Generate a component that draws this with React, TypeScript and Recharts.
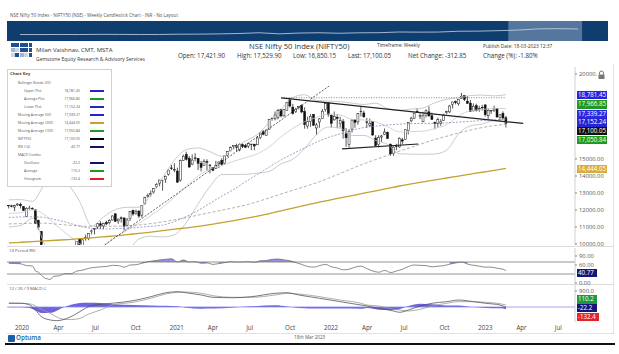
import React from "react";
import { ComposedChart, LineChart, Line, Bar, Area, XAxis, YAxis, ReferenceLine, ReferenceArea } from "recharts";

const FONT = '"Open Sans", "Noto Sans", sans-serif';

// weekly candles, Friday 27 Dec 2019 .. Friday 17 Mar 2023 (week 0 = 3 Jan 2020)
const FIRST_WEEK = -1;
const opens = [
  12273,
  12247, 12170, 12296, 12329, 12197, 11627, 12102, 12092, 12012, 11387, 10742, 9587, 7945,
  8385, 8446, 8963, 9390, 9259, 9533, 9226, 9158, 9099, 9726, 10326, 9920, 10318,
  10323, 10723, 10851, 10999, 11189, 11057, 11270, 11248, 11412, 11777, 11359, 11539, 11535,
  11105, 11487, 11973, 11813, 11937, 11697, 12399, 12781, 12906, 13062, 13393, 13571, 13741, 13815,
  14104, 14474, 14371, 14290, 13758, 14919, 15270, 15045, 14702, 15065, 15040, 14737, 14628,
  14837, 14644, 14484, 14449, 14747, 14928, 14756, 15211, 15484, 15725, 15791, 15525, 15839,
  15793, 15755, 15877, 15874, 15831, 16258, 16600, 16384, 16755, 17400, 17363, 17443, 17920,
  17532, 17867, 18477, 18048, 17783, 18040, 18140, 17796, 16937, 17209, 17619, 16824, 17177,
  17387, 17913, 18300, 17575, 17302, 17456, 17077, 17192, 16481, 15867, 16757, 17329, 17181,
  17809, 17706, 17183, 16972, 17193, 16227, 15846, 16290, 16438, 16571, 15877, 15334, 15757,
  15711, 16129, 16151, 16662, 17244, 17402, 17797, 17491, 17188, 17546, 17771, 17540, 17156,
  17102, 17094, 17272, 17736, 17771, 18211, 18376, 18246, 18552, 18719, 18402, 18288, 17831,
  18131, 17952, 18038, 18183, 17541, 17818, 17847, 17966, 17451, 17681, 17422,
];
const highs = [
  12294,
  12311, 12311, 12389, 12430, 12216, 12160, 12246, 12160, 12012, 11433, 10751, 9602, 9038,
  8678, 9131, 9390, 9390, 9889, 9553, 9585, 9178, 9598, 10179, 10328, 10273, 10553,
  10631, 10848, 10933, 11225, 11341, 11256, 11373, 11460, 11686, 11794, 11493, 11618, 11535,
  11535, 11939, 12025, 12019, 11975, 12281, 12769, 12963, 13146, 13280, 13579, 13773, 13777, 14024,
  14367, 14653, 14753, 14491, 14964, 15257, 15432, 15176, 15273, 15336, 15051, 14878, 14984,
  14984, 14697, 14527, 14890, 14863, 15044, 15189, 15469, 15733, 15823, 15901, 15915, 15915,
  15893, 15962, 15881, 15880, 16350, 16543, 16701, 16722, 17340, 17436, 17792, 17947, 17947,
  17941, 18351, 18604, 18242, 18012, 18123, 18210, 18043, 17489, 17639, 17640, 17118, 17400,
  17944, 18286, 18350, 17599, 17794, 17639, 17490, 17352, 16815, 16757, 17344, 17353, 17703,
  18114, 17842, 17414, 17377, 17200, 16404, 16400, 16414, 16794, 16610, 15890, 15749, 15892,
  16276, 16248, 16752, 17172, 17490, 17719, 17992, 17685, 17777, 17925, 18096, 17723, 17196,
  17428, 17348, 17665, 17838, 18176, 18362, 18442, 18534, 18887, 18728, 18697, 18473, 18266,
  18251, 18127, 18183, 18202, 17973, 17881, 18134, 17973, 17645, 17800, 17530,
];
const lows = [
  12087,
  12151, 11929, 12232, 12087, 11962, 11614, 12030, 11990, 11175, 10827, 8555, 7832, 7511,
  8055, 8360, 8822, 8909, 9116, 8806, 9043, 8806, 8968, 9706, 9544, 9729, 10194,
  10223, 10562, 10562, 10886, 10882, 10882, 11111, 11144, 11374, 11303, 11185, 11255, 10790,
  11031, 11347, 11661, 11724, 11535, 11557, 12311, 12730, 12790, 12962, 13280, 13400, 13131, 13596,
  14021, 14357, 14222, 13597, 13661, 14900, 14905, 14467, 14636, 14862, 14350, 14264, 14617,
  14311, 14151, 14273, 14416, 14461, 14591, 14673, 15126, 15450, 15567, 15450, 15450, 15635,
  15632, 15636, 15513, 15514, 15820, 16162, 16395, 16380, 16750, 17255, 17270, 17327, 17452,
  17500, 17865, 18034, 17613, 17697, 17917, 17689, 16783, 16782, 16891, 16966, 16410, 16833,
  17383, 17779, 17485, 16836, 17245, 16810, 16843, 16203, 15711, 15671, 16556, 16837, 17006,
  17505, 17442, 16824, 16888, 16341, 15735, 15671, 16003, 16400, 16172, 15183, 15184, 15512,
  15661, 15858, 16142, 16438, 17154, 17359, 17710, 17345, 17166, 17445, 17499, 17292, 16748,
  16855, 16950, 17238, 17637, 17700, 17969, 18210, 18133, 18552, 18410, 18255, 17774, 17795,
  17795, 17774, 17853, 17493, 17353, 17652, 17769, 17456, 17255, 17325, 16850,
];
const closes = [
  12246,
  12227, 12257, 12352, 12248, 11962, 12098, 12113, 12080, 11202, 10989, 9955, 8745, 8660,
  8084, 9112, 9267, 9154, 9860, 9251, 9137, 9039, 9580, 10142, 9972, 10244, 10383,
  10607, 10768, 10902, 11194, 11073, 11214, 11178, 11372, 11647, 11333, 11464, 11504, 11050,
  11417, 11914, 11762, 11930, 11642, 12264, 12720, 12860, 12969, 13258, 13514, 13761, 13749, 13982,
  14347, 14433, 14372, 13635, 14924, 15163, 14982, 14529, 14938, 15031, 14744, 14507, 14867,
  14835, 14617, 14341, 14631, 14823, 14677, 15175, 15436, 15670, 15799, 15683, 15860, 15722,
  15690, 15923, 15856, 15763, 16238, 16529, 16451, 16705, 17324, 17369, 17585, 17853, 17532,
  17895, 18339, 18115, 17672, 17916, 18102, 17764, 17026, 17196, 17511, 16985, 17004, 17354,
  17812, 18256, 17617, 17102, 17516, 17375, 17277, 16659, 16246, 16630, 17287, 17153, 17670,
  17784, 17476, 17172, 17102, 16411, 15782, 16266, 16352, 16584, 16202, 15294, 15699, 15752,
  16221, 16049, 16719, 17158, 17398, 17698, 17758, 17559, 17539, 17833, 17531, 17327, 17094,
  17315, 17186, 17576, 17787, 18117, 18350, 18308, 18512, 18696, 18497, 18269, 17807, 18105,
  17860, 17957, 18027, 17604, 17854, 17856, 17944, 17466, 17594, 17413, 17100,
];

// overlay studies every 4th week (weeks -1, 3, 7 ... 167)
const bbUpper = [
  12600, 12608, 12509, 13474, 14008, 13508, 12480, 11058, 11588, 12021, 12154, 12160, 12887, 13920, 14946,
  15553, 15649, 15426, 15155, 15644, 16061, 16446, 17163, 17896, 18621, 18778, 18446, 18405, 18372, 18284,
  18204, 18284, 17953, 17869, 17938, 18000, 18310, 18517, 18595, 18730, 18756, 18713, 18781,
];
const bbAverage = [
  11800, 11848, 12009, 11732, 11094, 10538, 10020, 9708, 9882, 10403, 10804, 11230, 11671, 12166, 12746,
  13409, 14009, 14410, 14619, 14866, 15079, 15306, 15715, 16308, 16805, 17198, 17444, 17645, 17592, 17332,
  17296, 17184, 16903, 16587, 16612, 16636, 16802, 17025, 17541, 17838, 17908, 17981, 17967,
];
const bbLower = [
  11000, 11088, 11509, 9990, 8180, 7568, 7560, 8358, 8176, 8785, 9454, 10300, 10455, 10412, 10546,
  11265, 12369, 13394, 14083, 14088, 14097, 14166, 14267, 14720, 14989, 15618, 16442, 16885, 16812, 16380,
  16388, 16084, 15853, 15305, 15286, 15272, 15294, 15533, 16487, 16946, 17060, 17249, 17152,
];
const ma50 = [
  11560, 11590, 11600, 11560, 11420, 11250, 11040, 10920, 10880, 10900, 10930, 10980, 11040, 11110, 11330,
  11620, 11980, 12400, 12820, 13210, 13660, 14090, 14530, 14944, 15310, 15650, 15990, 16270, 16480, 16690,
  16850, 16930, 17000, 17050, 17080, 17090, 17100, 17130, 17170, 17210, 17260, 17300, 17339,
];
const ma100 = [
  11180, 11200, 11220, 11225, 11170, 11110, 11060, 11040, 11040, 11045, 11060, 11120, 11200, 11300, 11420,
  11550, 11700, 11840, 11990, 12130, 12290, 12490, 12710, 12941, 13160, 13380, 13600, 13870, 14150, 14440,
  14720, 14970, 15210, 15460, 15690, 15920, 16149, 16340, 16530, 16700, 16850, 16960, 17051,
];
const ma200 = [
  10060, 10100, 10140, 10180, 10220, 10260, 10310, 10360, 10420, 10480, 10550, 10620, 10700, 10780, 10870,
  10950, 11040, 11140, 11250, 11370, 11500, 11640, 11790, 11950, 12110, 12270, 12420, 12570, 12710, 12850,
  12990, 13130, 13270, 13410, 13530, 13650, 13770, 13880, 13995, 14110, 14220, 14335, 14444,
];

const rsiWeeks = [
  -1, 1, 3, 5, 7, 8, 9, 10, 11, 12, 13, 14,
  16, 18, 20, 22, 24, 26, 28, 30, 32, 34, 36, 38, 40, 42, 44, 46, 48, 50, 52, 54,
  56, 58, 60, 62, 64, 66, 68, 70, 72, 74, 76, 78, 80, 82, 84, 86, 88, 90, 92, 94,
  96, 98, 100, 102, 104, 106, 108, 110, 112, 114, 116, 118, 120, 122, 124, 126, 128, 130, 132, 134,
  136, 138, 140, 142, 144, 146, 148, 150, 152, 154, 156, 158, 160, 162, 164, 166, 167,
];
const rsiValues = [
  66, 65, 64, 58, 57, 40, 36, 26, 17, 14, 12, 22,
  24, 31, 31, 40, 43, 49, 52, 54, 55, 59, 58, 53, 60, 61, 66, 71, 74, 77, 79, 81,
  70, 77, 70, 71, 66, 67, 62, 65, 68, 71, 70, 70, 71, 69, 74, 75, 79, 80, 77, 74,
  68, 62, 55, 53, 58, 62, 54, 50, 44, 46, 53, 56, 48, 40, 36, 42, 35, 40, 46, 55,
  60, 59, 58, 54, 56, 58, 63, 67, 70, 63, 59, 56, 53, 53, 49, 46, 40.77,
];

const macdWeeks = [-1, 3, 6, 8, 10, 13, 15, 17, 20, 23, 26, 30, 34, 41, 47, 52, 56, 59, 64, 68, 75, 81, 89, 93, 97, 104, 111, 118, 120, 124, 129, 131, 134, 138, 142, 147, 151, 156, 160, 165, 167];
const macdOscillator = [220, 210, 120, -170, -545, -730, -770, -730, -545, -260, 20, 150, 210, 355, 580, 800, 860, 800, 675, 545, 520, 580, 770, 800, 675, 490, 300, 110, 55, -75, -225, -300, -170, 55, 210, 300, 390, 300, 210, 110, -22.2];
const macdAverage = [200, 205, 180, 60, -130, -355, -545, -675, -710, -640, -395, -170, 110, 265, 490, 730, 825, 840, 770, 635, 545, 545, 675, 770, 730, 580, 390, 210, 110, 55, -130, -170, -225, -130, 55, 210, 300, 300, 265, 185, 110.2];
const macdHistogram = [-20, -10, -60, -200, -340, -330, -220, -60, 120, 220, 240, 220, 150, 110, 90, 70, 35, -40, -95, -90, -25, 35, 95, 30, -55, -90, -90, -100, -55, -150, -170, -130, 55, 185, 155, 90, 90, 0, -55, -75, -132.4];

// axis labels that are not hidden behind the value flags
const priceTicks = [10000, 11000, 12000, 13000, 14000, 15000, 20000];
const rsiTicks = [0, 60, 90];
const macdTicks = [900];
const dateTicks = ["2020-01-01", "2020-04-01", "2020-07-01", "2020-10-01", "2021-01-01", "2021-04-01", "2021-07-01", "2021-10-01", "2022-01-01", "2022-04-01", "2022-07-01", "2022-10-01", "2023-01-01", "2023-04-01", "2023-07-01"];
const dateTickLabels = ["2020", "Apr", "Jul", "Oct", "2021", "Apr", "Jul", "Oct", "2022", "Apr", "Jul", "Oct", "2023", "Apr", "Jul"];

// navigator strip: yearly closes
const navYears = [1995, 1996, 1997, 1998, 1999, 2000, 2001, 2002, 2003, 2004, 2005, 2006, 2007, 2008, 2009, 2010, 2011, 2012, 2013, 2014, 2015, 2016, 2017, 2018, 2019, 2020, 2021, 2022, 2023];
const navCloses = [908, 899, 1079, 884, 1480, 1263, 1059, 1093, 1880, 2080, 2836, 3966, 6138, 2959, 5201, 6134, 4624, 5905, 6304, 8282, 7946, 8186, 10531, 10863, 12168, 13982, 17354, 18105, 17100];

const keyLabels = ["Bollinger Bands (20)", "Upper Plot", "Average Plot", "Lower Plot", "Moving Average (50)", "Moving Average (200)", "Moving Average (100)", "NIFTY50", "RSI (14)", "MACD Combo", "Oscillator", "Average", "Histogram"];
const keyValues = ["", "18,781.45", "17,966.85", "17,152.24", "17,339.27", "14,444.05", "17,050.84", "17,100.05", "40.77", "", "-22.2", "110.2", "-132.4"];
const keyColors = ["", "#2424c8", "#1e9a1e", "#2424c8", "#2424c8", "#c9a030", "#1e9a1e", "#000000", "#12126a", "", "#12126a", "#1e9a1e", "#e02020"];
const keyIndent = [18, 24, 24, 24, 18, 18, 18, 18, 18, 18, 24, 24, 24];

const WEEK0 = Date.UTC(2020, 0, 3);
const toWeek = (d: string) => (Date.parse(d) - WEEK0) / 6048e5;
const tickWeeks = dateTicks.map(toWeek);
const X_DOMAIN: [number, number] = [-1.62, 190.3];

const mainRows: any[] = closes.map((c, i) => ({
  w: i + FIRST_WEEK,
  open: opens[i],
  high: highs[i],
  low: lows[i],
  close: c,
  range: [lows[i], highs[i]],
}));
bbUpper.forEach((_, j) => {
  const row = mainRows[4 * j];
  row.bbU = bbUpper[j];
  row.bbM = bbAverage[j];
  row.bbL = bbLower[j];
  row.ma50 = ma50[j];
  row.ma100 = ma100[j];
  row.ma200 = ma200[j];
});

const rsiRows = rsiWeeks.map((w, i) => {
  const v = rsiValues[i];
  return { w, rsi: v, band: v >= 63 ? [Math.min(v, 70), Math.max(v, 70)] : null };
});
const macdRows = macdWeeks.map((w, i) => ({ w, osc: macdOscillator[i], avg: macdAverage[i], hist: macdHistogram[i] }));
const navRows = navYears.map((y, i) => ({ y: y + 0.5, v: navCloses[i] }));

function Candle(props: any) {
  const { x, y, width, height } = props;
  const d = props.payload ?? props;
  if (d == null || d.high == null || x == null || y == null) return null;
  const top = Math.min(y, y + height);
  const h = Math.abs(height);
  const span = d.high - d.low || 1;
  const yOf = (v: number) => top + ((d.high - v) / span) * h;
  const cx = x + width / 2;
  const up = d.close >= d.open;
  const b1 = yOf(Math.max(d.open, d.close));
  const b2 = yOf(Math.min(d.open, d.close));
  return (
    <g>
      <line x1={cx} x2={cx} y1={top} y2={top + h} stroke="#111" strokeWidth={0.7} />
      <rect x={cx - 1} y={b1} width={2} height={Math.max(b2 - b1, 0.5)} fill={up ? "#fff" : "#111"} stroke="#111" strokeWidth={0.5} />
    </g>
  );
}

const axisTick = (fmt: (v: number) => string) => (p: any) => (
  <text x={p.x + 1} y={p.y} dy={2} fontSize={5.8} fill="#555" fontFamily={FONT} textAnchor="start">
    {fmt(p.payload.value)}
  </text>
);

const DateTick = (p: any) => {
  const i = tickWeeks.findIndex((t) => Math.abs(t - p.payload.value) < 1e-6);
  return (
    <text x={p.x + 4} y={p.y + 7.5} fontSize={6.2} fill="#444" fontFamily={FONT} textAnchor="start">
      {dateTickLabels[i]}
    </text>
  );
};

const NavTick = (p: any) => (
  <g>
    <line x1={p.x - 9.9} x2={p.x - 9.9} y1={0} y2={20} stroke="#2f5a89" strokeWidth={0.6} />
    <text x={p.x - 9} y={4.5} fontSize={3.6} fill="#b2c2d8" fontFamily={FONT}>
      {Math.floor(p.payload.value)}
    </text>
  </g>
);

function Txt({ x, y, size, children, color = "#333", weight = 400, spacing = 0 }: any) {
  return (
    <div
      style={{
        position: "absolute",
        left: x,
        top: y - size * 0.6,
        fontSize: size,
        lineHeight: `${size * 1.2}px`,
        color,
        fontWeight: weight,
        whiteSpace: "nowrap",
        letterSpacing: spacing,
      }}
    >
      {children}
    </div>
  );
}

const sideLabels = [
  { text: "18,781.45", top: 90.5, bg: "#2323e0", w: 30 },
  { text: "17,966.85", top: 100, bg: "#1f9a1f", w: 30 },
  { text: "17,339.27", top: 109.5, bg: "#2a2ae6", w: 30 },
  { text: "17,152.24", top: 118, bg: "#2626d0", w: 30 },
  { text: "17,100.05", top: 126.5, bg: "#111111", w: 30 },
  { text: "17,050.84", top: 135.5, bg: "#1f9a1f", w: 30 },
  { text: "14,444.05", top: 164.5, bg: "#d9ab3c", w: 30 },
  { text: "40.77", top: 268.8, bg: "#16167a", w: 20 },
  { text: "110.2", top: 295, bg: "#1f9a3a", w: 20 },
  { text: "-22.2", top: 303.5, bg: "#16167a", w: 20 },
  { text: "-132.4", top: 312.5, bg: "#e3262b", w: 22 },
];

const logoColors = ["#1f4f8f", "#1f4f8f", "#1f4f8f", "#1f4f8f", "#1f4f8f", "#9fb6d3", "#c9d6e6", "#1f4f8f", "#1f4f8f", "#1f4f8f", "#c9d6e6", "#1f4f8f", "#9fb6d3", "#c9d6e6", "#1f4f8f"];

export default function App() {
  return (
    <div style={{ position: "absolute", left: 0, top: 0, width: 619, height: 354, background: "#fff", overflow: "hidden", fontFamily: FONT }}>
      <Txt x={10} y={16} size={4.6} color="#555">
        NSE Nifty 50 Index - NIFTY50 (NSE) - Weekly Candlestick Chart - INR - No Layout
      </Txt>

      {/* navigator */}
      <div style={{ position: "absolute", left: 7, top: 21, width: 601, height: 20, background: "#0f3d6e" }}>
        <LineChart width={601} height={20} data={navRows} margin={{ top: 0, right: 0, bottom: 0, left: 0 }}>
          <XAxis type="number" dataKey="y" domain={[1994.85, 2025]} ticks={navYears.map((y) => y + 0.5)} interval={0} orientation="top" height={0} axisLine={false} tickLine={false} tick={NavTick} />
          <YAxis hide domain={[-18000, 40500]} />
          <ReferenceArea x1={2020} x2={2023.7} fill="#8fa7c6" fillOpacity={0.55} stroke="none" />
          <Line dataKey="v" stroke="#c8d6ea" strokeWidth={0.8} dot={false} isAnimationActive={false} />
        </LineChart>
      </div>

      {/* header */}
      <div style={{ position: "absolute", left: 11, top: 43, width: 22, height: 14, display: "grid", gridTemplateColumns: "repeat(5, 3.8px)", gap: 0.6 }}>
        {logoColors.map((c, i) => (
          <div key={i} style={{ width: 3.8, height: 3.8, background: c }} />
        ))}
      </div>
      <Txt x={36} y={51} size={6}>Milan Vaishnav, CMT, MSTA</Txt>
      <Txt x={36} y={58.5} size={5}>Gemstone Equity Research &amp; Advisory Services</Txt>
      <Txt x={249} y={46.5} size={7.6}>NSE Nifty 50 Index (NIFTY50)</Txt>
      <Txt x={377} y={46} size={4.8}>Timeframe: Weekly</Txt>
      <Txt x={483} y={46.5} size={4.8}>Publish Date: 18-03-2023 12:37</Txt>
      <Txt x={178} y={56} size={6.2}>Open: 17,421.90</Txt>
      <Txt x={237} y={56} size={6.2}>High: 17,529.90</Txt>
      <Txt x={293} y={56} size={6.2}>Low: 16,850.15</Txt>
      <Txt x={348} y={56} size={6.2}>Last: 17,100.05</Txt>
      <Txt x={408} y={56} size={6.2}>Net Change: -312.85</Txt>
      <Txt x={483} y={56} size={6.2}>Change (%): -1.80%</Txt>

      {/* frame lines */}
      <div style={{ position: "absolute", left: 7, top: 246, width: 606, height: 1, background: "#dcdcdc" }} />
      <div style={{ position: "absolute", left: 7, top: 284, width: 606, height: 1, background: "#dcdcdc" }} />
      <div style={{ position: "absolute", left: 7, top: 333, width: 606, height: 1, background: "#e2e2e2" }} />
      <div style={{ position: "absolute", left: 613, top: 64, width: 1, height: 270, background: "#e2e2e2" }} />

      {/* price panel */}
      <div style={{ position: "absolute", left: 0, top: 62 }}>
        <ComposedChart width={619} height={189} data={mainRows} margin={{ top: 5, right: 4, bottom: 6, left: 7 }}>
          <XAxis type="number" dataKey="w" domain={X_DOMAIN} hide allowDataOverflow />
          <YAxis orientation="right" width={40} domain={[9940, 20410]} ticks={priceTicks} interval={0} allowDataOverflow axisLine={{ stroke: "#cfcfcf" }} tickLine={{ stroke: "#888" }} tickSize={2} tickMargin={1} tick={axisTick((v) => v.toFixed(2))} />
          <Line dataKey="bbU" type="monotone" stroke="#bdbdbd" strokeWidth={0.8} dot={false} connectNulls isAnimationActive={false} />
          <Line dataKey="bbM" type="monotone" stroke="#cacaca" strokeWidth={0.8} dot={false} connectNulls isAnimationActive={false} />
          <Line dataKey="bbL" type="monotone" stroke="#bdbdbd" strokeWidth={0.8} dot={false} connectNulls isAnimationActive={false} />
          <Line dataKey="ma100" type="monotone" stroke="#8f8f8f" strokeWidth={0.7} strokeDasharray="3 2" dot={false} connectNulls isAnimationActive={false} />
          <Line dataKey="ma50" type="monotone" stroke="#7a7ab4" strokeWidth={0.7} strokeDasharray="2 1.5" dot={false} connectNulls isAnimationActive={false} />
          <Line dataKey="ma200" type="monotone" stroke="#c2a232" strokeWidth={1.3} dot={false} connectNulls isAnimationActive={false} />
          <Bar dataKey="range" barSize={3} shape={(p: any) => <Candle {...p} />} isAnimationActive={false} />
          <ReferenceLine segment={[{ x: 31.4, y: 9950 }, { x: 107.2, y: 19290 }]} stroke="#333" strokeWidth={0.8} strokeDasharray="2 1.5" ifOverflow="visible" />
          <ReferenceLine segment={[{ x: 91, y: 18604 }, { x: 166.7, y: 18604 }]} stroke="#666" strokeWidth={0.8} strokeDasharray="1 1.5" ifOverflow="visible" />
          <ReferenceLine segment={[{ x: 91, y: 18600 }, { x: 172.8, y: 17090 }]} stroke="#222" strokeWidth={1.3} ifOverflow="visible" />
          <ReferenceLine segment={[{ x: 111.6, y: 15590 }, { x: 137.3, y: 15880 }]} stroke="#222" strokeWidth={1.2} ifOverflow="visible" />
        </ComposedChart>
      </div>

      {/* RSI panel */}
      <Txt x={9} y={251} size={4.3} color="#555">14 Period RSI</Txt>
      <div style={{ position: "absolute", left: 0, top: 247 }}>
        <ComposedChart width={619} height={41} data={rsiRows} margin={{ top: 1, right: 4, bottom: 4, left: 7 }}>
          <XAxis type="number" dataKey="w" domain={X_DOMAIN} hide allowDataOverflow />
          <YAxis orientation="right" width={40} domain={[-3.3, 116.7]} ticks={rsiTicks} interval={0} axisLine={{ stroke: "#cfcfcf" }} tickLine={{ stroke: "#888" }} tickSize={2} tickMargin={1} tick={axisTick((v) => v.toFixed(2))} />
          <ReferenceLine y={70} stroke="#777" strokeWidth={0.8} />
          <ReferenceLine y={30} stroke="#777" strokeWidth={0.8} />
          <Area dataKey="band" type="monotone" fill="#6a62d8" fillOpacity={0.7} stroke="none" isAnimationActive={false} />
          <Line dataKey="rsi" type="monotone" stroke="#6e6e6e" strokeWidth={0.8} dot={false} isAnimationActive={false} />
        </ComposedChart>
      </div>

      {/* MACD panel */}
      <Txt x={9} y={289} size={4.3} color="#555">12 / 26 / 9 MACD-C</Txt>
      <div style={{ position: "absolute", left: 0, top: 285 }}>
        <ComposedChart width={619} height={48} data={macdRows} margin={{ top: 0, right: 4, bottom: 0, left: 7 }}>
          <XAxis type="number" dataKey="w" domain={X_DOMAIN} ticks={tickWeeks} interval={0} height={11} axisLine={false} tickLine={false} tickSize={0} tickMargin={0} tick={DateTick} allowDataOverflow />
          <YAxis orientation="right" width={40} domain={[-844, 1237]} ticks={macdTicks} interval={0} axisLine={{ stroke: "#cfcfcf" }} tickLine={{ stroke: "#888" }} tickSize={2} tickMargin={1} tick={axisTick((v) => v.toFixed(1))} />
          <ReferenceLine y={0} stroke="#8a8af0" strokeWidth={0.8} />
          <Area dataKey="hist" type="monotone" fill="#5548d6" fillOpacity={0.85} stroke="none" isAnimationActive={false} />
          <Line dataKey="avg" type="monotone" stroke="#9a9a9a" strokeWidth={0.8} dot={false} isAnimationActive={false} />
          <Line dataKey="osc" type="monotone" stroke="#555" strokeWidth={0.8} dot={false} isAnimationActive={false} />
        </ComposedChart>
      </div>

      {/* chart key */}
      <div style={{ position: "absolute", left: 7, top: 69, width: 105, height: 118, border: "1px solid #cfcfcf", background: "#fff", boxSizing: "border-box" }} />
      <Txt x={10} y={74} size={4.2} weight={700} color="#444">Chart Key</Txt>
      {keyLabels.map((label, i) => {
        const cy = 82.7 + 8 * i;
        return (
          <React.Fragment key={label + i}>
            <Txt x={keyIndent[i]} y={cy} size={3.5} color="#555">{label}</Txt>
            {keyValues[i] && (
              <div style={{ position: "absolute", left: 55, width: 25, top: cy - 2.1, fontSize: 3.5, lineHeight: "4.2px", textAlign: "right", color: "#555", whiteSpace: "nowrap" }}>{keyValues[i]}</div>
            )}
            {keyColors[i] && <div style={{ position: "absolute", left: 90, top: cy - 1.2, width: 14, height: 2.5, background: keyColors[i] }} />}
          </React.Fragment>
        );
      })}

      {/* value flags on the right axis */}
      {sideLabels.map((l) => (
        <div key={l.text} style={{ position: "absolute", left: 577, top: l.top, width: l.w, height: 8.5, background: l.bg, color: "#fff", fontSize: 6.2, lineHeight: "8.5px", paddingLeft: 1, overflow: "hidden", whiteSpace: "nowrap", boxSizing: "border-box" }}>
          {l.text}
        </div>
      ))}
      <svg style={{ position: "absolute", left: 597, top: 70 }} width={9} height={10}>
        <rect x={0} y={0} width={9} height={10} fill="#fff" />
        <path d="M2.5 4.5 V3 a2 2 0 0 1 4 0 V4.5" fill="none" stroke="#777" strokeWidth={1} />
        <rect x={1.5} y={4.5} width={6} height={4.5} fill="#777" />
      </svg>

      {/* footer */}
      <div style={{ position: "absolute", left: 8, top: 334.5, width: 7, height: 7, background: "#1b5fa8", borderRadius: 1 }} />
      <Txt x={16} y={338} size={6.3} weight={600} color="#1b5fa8">Optuma</Txt>
      <Txt x={294} y={338} size={4.6} color="#555">18th Mar 2023</Txt>
      <div style={{ position: "absolute", left: 5, top: 343, width: 610, height: 1.6, background: "#111" }} />
    </div>
  );
}
